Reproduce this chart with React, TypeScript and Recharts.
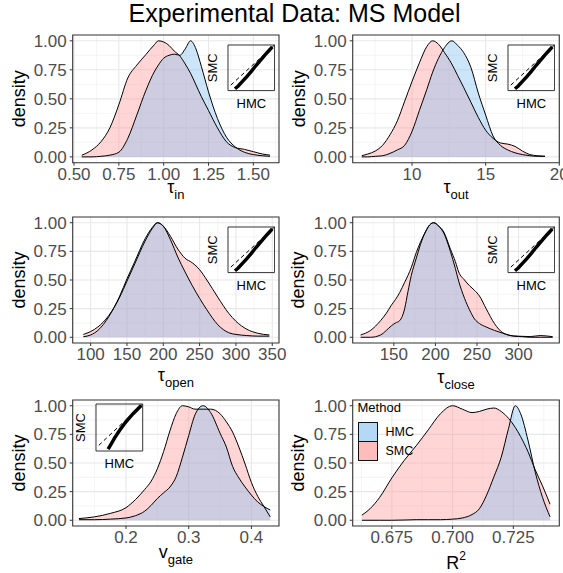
import React from 'react'
import {
  ComposedChart,
  LineChart,
  Area,
  Line,
  XAxis,
  YAxis,
  CartesianGrid,
  ReferenceArea,
  ReferenceLine,
  Legend,
} from 'recharts'

const FONT = '"Liberation Sans", Arial, Helvetica, sans-serif'
const SMC_COLOR = '#ff9696'
const HMC_COLOR = '#82bef0'
const AREA_OPACITY = 0.4
const KEY_COLORS: Record<string, string> = { HMC: '#b4d8f6', SMC: '#ffbcbc' }

const densityTicks = [0, 0.25, 0.5, 0.75, 1]
const densityDomain: [number, number] = [-0.05, 1.05]

// tau_in
const tauInX = [0.543, 0.6, 0.65, 0.7, 0.75, 0.8, 0.85, 0.9, 0.95, 0.97, 1.0, 1.03, 1.06, 1.09, 1.12, 1.15, 1.18, 1.21, 1.25, 1.3, 1.35, 1.4, 1.45, 1.5, 1.55, 1.593]
const tauInSmc = [0.014, 0.06, 0.13, 0.25, 0.45, 0.68, 0.79, 0.88, 0.97, 1.0, 0.99, 0.96, 0.91, 0.87, 0.8, 0.72, 0.62, 0.52, 0.4, 0.25, 0.13, 0.08, 0.065, 0.045, 0.025, 0.015]
const tauInHmc = [0, 0, 0.005, 0.015, 0.04, 0.16, 0.36, 0.57, 0.74, 0.79, 0.85, 0.875, 0.885, 0.875, 0.93, 1.0, 0.93, 0.78, 0.56, 0.33, 0.17, 0.085, 0.04, 0.02, 0.01, 0.005]
const tauInTicks = [0.5, 0.75, 1, 1.25, 1.5]

// tau_out
const tauOutX = [6.59, 7, 7.5, 8, 8.5, 9, 9.5, 10, 10.5, 11, 11.4, 11.8, 12.2, 12.7, 13.1, 13.5, 14, 14.5, 15, 15.5, 16, 16.5, 17, 17.5, 18, 18.5, 19.03]
const tauOutSmc = [0.01, 0.025, 0.05, 0.1, 0.19, 0.31, 0.48, 0.65, 0.81, 0.95, 1.0, 0.97, 0.9, 0.8, 0.7, 0.6, 0.47, 0.34, 0.23, 0.16, 0.12, 0.11, 0.09, 0.05, 0.02, 0.01, 0.005]
const tauOutHmc = [0, 0, 0.005, 0.01, 0.03, 0.06, 0.1, 0.22, 0.4, 0.58, 0.73, 0.85, 0.94, 1.0, 0.96, 0.9, 0.77, 0.55, 0.36, 0.18, 0.1, 0.06, 0.035, 0.02, 0.01, 0.005, 0.005]
const tauOutTicks = [10, 15, 20]

// tau_open
const tauOpenX = [90, 100, 110, 125, 140, 150, 160, 175, 185, 192, 200, 210, 220, 230, 240, 250, 260, 275, 290, 300, 315, 330, 346]
const tauOpenSmc = [0.025, 0.05, 0.09, 0.19, 0.35, 0.49, 0.63, 0.84, 0.95, 1.0, 0.97, 0.88, 0.77, 0.69, 0.65, 0.59, 0.5, 0.35, 0.21, 0.14, 0.07, 0.035, 0.02]
const tauOpenHmc = [0.005, 0.02, 0.06, 0.18, 0.36, 0.51, 0.65, 0.86, 0.96, 1.0, 0.97, 0.85, 0.7, 0.57, 0.45, 0.34, 0.24, 0.11, 0.04, 0.025, 0.015, 0.01, 0.01]
const tauOpenTicks = [100, 150, 200, 250, 300, 350]

// tau_close
const tauCloseX = [110, 122, 134, 141, 147, 152, 157, 163, 167, 171, 177, 182, 188, 193, 198, 204, 210, 218, 224, 228, 235, 241, 247, 253, 261, 271, 281, 294, 305, 314, 326, 341]
const tauCloseSmc = [0.02, 0.06, 0.145, 0.21, 0.28, 0.33, 0.39, 0.48, 0.54, 0.61, 0.74, 0.83, 0.92, 0.98, 1.0, 0.97, 0.92, 0.77, 0.66, 0.57, 0.5, 0.45, 0.41, 0.36, 0.25, 0.12, 0.04, 0.012, 0.008, 0.006, 0.015, 0.005]
const tauCloseHmc = [0, 0, 0.02, 0.06, 0.1, 0.125, 0.145, 0.25, 0.4, 0.54, 0.69, 0.81, 0.92, 0.98, 1.0, 0.97, 0.91, 0.75, 0.6, 0.49, 0.34, 0.24, 0.16, 0.12, 0.09, 0.06, 0.035, 0.01, 0.005, 0, 0, 0]
const tauCloseTicks = [150, 200, 250, 300]

// v_gate
const vGateX = [0.125, 0.15, 0.175, 0.2, 0.215, 0.23, 0.24, 0.25, 0.26, 0.27, 0.28, 0.29, 0.3, 0.31, 0.323, 0.335, 0.35, 0.36, 0.37, 0.38, 0.39, 0.4, 0.41, 0.42, 0.43]
const vGateSmc = [0.015, 0.03, 0.06, 0.11, 0.18, 0.27, 0.34, 0.45, 0.6, 0.78, 0.93, 1.0, 0.99, 0.97, 0.97, 0.97, 0.93, 0.86, 0.77, 0.64, 0.49, 0.33, 0.21, 0.12, 0.03]
const vGateHmc = [0.005, 0.005, 0.01, 0.02, 0.04, 0.08, 0.13, 0.19, 0.24, 0.29, 0.38, 0.55, 0.74, 0.92, 1.0, 0.94, 0.76, 0.64, 0.47, 0.37, 0.29, 0.22, 0.16, 0.12, 0.09]
const vGateTicks = [0.2, 0.3, 0.4]

// R^2
const r2X = [0.6627, 0.666, 0.67, 0.675, 0.68, 0.685, 0.69, 0.695, 0.7, 0.704, 0.708, 0.711, 0.714, 0.717, 0.72, 0.723, 0.7258, 0.728, 0.731, 0.734, 0.737, 0.7401]
const r2Smc = [0.045, 0.1, 0.2, 0.37, 0.52, 0.65, 0.79, 0.93, 1.0, 0.97, 0.94, 0.95, 0.97, 0.98, 0.95, 0.89, 0.81, 0.73, 0.6, 0.44, 0.3, 0.14]
const r2Hmc = [0, 0, 0, 0, 0.002, 0.005, 0.005, 0.005, 0.01, 0.02, 0.05, 0.1, 0.22, 0.38, 0.55, 0.8, 1.0, 0.93, 0.7, 0.42, 0.2, 0.03]
const r2Ticks = [0.675, 0.7, 0.725]

// QQ insets (scaled quantiles)
const qqHmc = [0.15, 0.22, 0.3, 0.4, 0.5, 0.6, 0.7, 0.8, 0.9, 0.95]
const qqSmc = [0.04, 0.1, 0.19, 0.3, 0.42, 0.55, 0.67, 0.79, 0.9, 0.96]
const vGateQqHmc = [0.26, 0.32, 0.4, 0.5, 0.6, 0.7, 0.8, 0.9, 0.97]
const vGateQqSmc = [0.04, 0.14, 0.28, 0.43, 0.57, 0.69, 0.8, 0.9, 0.97]

const AXIS_W = 72.7
const M_TOP = 6
const M_RIGHT = 10
const X_AXIS_H = 52

const minorOf = (ticks: number[], domain: [number, number]) => {
  const step = ticks[1] - ticks[0]
  const out: number[] = []
  for (let v = ticks[0] - step / 2; v <= domain[1] + 1e-9; v += step) {
    if (v >= domain[0]) out.push(v)
  }
  return out
}

const XTitle = (props: any) => {
  const vb = props.viewBox || { x: 0, y: 0, width: 0, height: 0 }
  const cx = vb.x + vb.width / 2
  return (
    <text x={cx} y={vb.y + props.tDy} textAnchor="middle" fontSize={18} fill="#000" fontFamily={FONT}>
      <tspan>{props.tMain}</tspan>
      {props.tSub ? <tspan fontSize={13} dy={6}>{props.tSub}</tspan> : null}
      {props.tSup ? <tspan fontSize={12} dy={-9}>{props.tSup}</tspan> : null}
    </text>
  )
}

const YTitle = (props: any) => {
  const vb = props.viewBox || { x: 0, y: 0, width: 0, height: 0 }
  const cx = vb.x + (props.tOff ?? vb.width / 2)
  const cy = vb.y + vb.height / 2
  return (
    <text
      x={cx}
      y={cy}
      transform={`rotate(-90 ${cx} ${cy})`}
      textAnchor="middle"
      dominantBaseline="central"
      fontSize={props.tSize}
      fill="#000"
      fontFamily={FONT}
    >
      {props.tText}
    </text>
  )
}

const InsetXTitle = (props: any) => {
  const vb = props.viewBox || { x: 0, y: 0, width: 0, height: 0 }
  return (
    <text x={vb.x + vb.width / 2} y={vb.y + vb.height / 2} textAnchor="middle" dominantBaseline="central" fontSize={13} fill="#000" fontFamily={FONT}>
      {props.tText}
    </text>
  )
}

const MethodLegend = (props: any) => {
  const seen = new Set<string>()
  const items = (props.payload || [])
    .filter((p: any) => {
      if (p.type === 'none' || seen.has(p.value)) return false
      seen.add(p.value)
      return true
    })
    .sort((a: any, b: any) => String(a.value).localeCompare(String(b.value)))
  return (
    <div style={{ fontFamily: FONT, color: '#000' }}>
      <div style={{ fontSize: 13, lineHeight: '16px', marginBottom: 6 }}>Method</div>
      {items.map((it: any, i: number) => (
        <div key={it.value} style={{ display: 'flex', alignItems: 'center', height: 20, marginTop: i ? -1 : 0 }}>
          <div style={{ width: 20, height: 20, boxSizing: 'border-box', background: KEY_COLORS[it.value], border: '1.5px solid #111' }} />
          <span style={{ fontSize: 12.5, marginLeft: 8 }}>{it.value}</span>
        </div>
      ))}
    </div>
  )
}

type InsetSpec = { dx: number; dy: number; w: number; h: number; hmcQ: number[]; smcQ: number[] }

const QQInset = ({ left, top, spec }: { left: number; top: number; spec: InsetSpec }) => {
  const rows = spec.hmcQ.map((q, i) => ({ hmc: q, smc: spec.smcQ[i] }))
  const yW = 31
  const xH = 25
  return (
    <div style={{ position: 'absolute', left: left - yW, top: top - 1 }}>
      <LineChart width={yW + spec.w + 1} height={1 + spec.h + xH} data={rows} margin={{ top: 1, right: 1, bottom: 0, left: 0 }}>
        <XAxis type="number" dataKey="hmc" domain={[0, 1]} allowDataOverflow tick={false} tickLine={false} axisLine={false} height={xH} label={<InsetXTitle tText="HMC" />} />
        <YAxis type="number" domain={[0, 1]} allowDataOverflow tick={false} tickLine={false} axisLine={false} width={yW} label={<YTitle tText="SMC" tSize={13} />} />
        <ReferenceLine segment={[{ x: 0.06, y: 0.12 }, { x: 1, y: 1 }]} stroke="#000" strokeWidth={1} strokeDasharray="4 3" ifOverflow="visible" />
        <Line dataKey="smc" type="linear" stroke="#000" strokeWidth={3.5} dot={false} isAnimationActive={false} />
        <ReferenceArea x1={0} x2={1} y1={0} y2={1} fill="none" stroke="#333" strokeWidth={1} ifOverflow="visible" />
      </LineChart>
    </div>
  )
}

type PanelProps = {
  left: number
  top: number
  plotW: number
  plotH: number
  xs: number[]
  smc: number[]
  hmc: number[]
  domain: [number, number]
  ticks: number[]
  fmt: (v: number) => string
  title: { main: string; sub?: string; sup?: string; dy: number }
  inset?: InsetSpec
  legend?: boolean
}

const DensityPanel = (p: PanelProps) => {
  const rows = p.xs.map((x, i) => ({ x, smc: p.smc[i], hmc: p.hmc[i] }))
  const chartW = AXIS_W + p.plotW + M_RIGHT
  const chartH = M_TOP + p.plotH + X_AXIS_H
  const tick = { fill: '#4d4d4d', fontSize: 17, fontFamily: FONT }
  return (
    <>
      <div style={{ position: 'absolute', left: p.left - AXIS_W, top: p.top - M_TOP }}>
        <ComposedChart width={chartW} height={chartH} data={rows} margin={{ top: M_TOP, right: M_RIGHT, bottom: 0, left: 0 }}>
          <CartesianGrid verticalValues={minorOf(p.ticks, p.domain)} horizontalValues={minorOf(densityTicks, densityDomain)} stroke="#eeeeee" strokeWidth={0.6} />
          <CartesianGrid verticalValues={p.ticks} horizontalValues={densityTicks} stroke="#e8e8e8" strokeWidth={1.1} />
          <XAxis
            type="number"
            dataKey="x"
            domain={p.domain}
            allowDataOverflow
            ticks={p.ticks}
            interval={0}
            tickFormatter={p.fmt}
            tick={tick}
            tickSize={3}
            tickMargin={2}
            tickLine={{ stroke: '#333' }}
            axisLine={false}
            height={X_AXIS_H}
            label={<XTitle tMain={p.title.main} tSub={p.title.sub} tSup={p.title.sup} tDy={p.title.dy} />}
          />
          <YAxis
            type="number"
            domain={densityDomain}
            allowDataOverflow
            ticks={densityTicks}
            interval={0}
            tickFormatter={(v: number) => v.toFixed(2)}
            tick={tick}
            tickSize={3}
            tickMargin={3}
            tickLine={{ stroke: '#333' }}
            axisLine={false}
            width={AXIS_W}
            label={<YTitle tText="density" tSize={18} tOff={18.5} />}
          />
          <Area type="monotone" dataKey="smc" name="SMC" fill={SMC_COLOR} fillOpacity={AREA_OPACITY} stroke="none" isAnimationActive={false} />
          <Area type="monotone" dataKey="hmc" name="HMC" fill={HMC_COLOR} fillOpacity={AREA_OPACITY} stroke="none" isAnimationActive={false} />
          <Line type="monotone" dataKey="smc" stroke="#000" strokeWidth={1} dot={false} legendType="none" isAnimationActive={false} />
          <Line type="monotone" dataKey="hmc" stroke="#000" strokeWidth={1} dot={false} legendType="none" isAnimationActive={false} />
          <ReferenceArea x1={p.domain[0]} x2={p.domain[1]} y1={densityDomain[0]} y2={densityDomain[1]} fill="none" stroke="#333" strokeWidth={1.1} ifOverflow="visible" />
          {p.legend ? (
            <Legend layout="vertical" align="center" verticalAlign="middle" content={<MethodLegend />} wrapperStyle={{ left: 77.5, top: 6, width: 'auto' }} />
          ) : null}
        </ComposedChart>
      </div>
      {p.inset ? <QQInset left={p.left + p.inset.dx} top={p.top + p.inset.dy} spec={p.inset} /> : null}
    </>
  )
}

const LEFT_X = 72.7
const RIGHT_X = 352.7
const LEFT_W = 206.3
const RIGHT_W = 206.6
const ROW_TOP = [35, 217.3, 400]
const ROW_H = [127.7, 126, 126]

const cornerInset: InsetSpec = { dx: 155, dy: 10, w: 46.6, h: 45.6, hmcQ: qqHmc, smcQ: qqSmc }
const vGateInset: InsetSpec = { dx: 23.3, dy: 4, w: 46.7, h: 47, hmcQ: vGateQqHmc, smcQ: vGateQqSmc }

export default function App() {
  return (
    <div style={{ position: 'absolute', left: 0, top: 0, width: 563, height: 573, background: '#fff', overflow: 'hidden', fontFamily: FONT }}>
      <div style={{ position: 'absolute', left: 0, top: 0, width: 589, textAlign: 'center', fontSize: 25, lineHeight: '26px', color: '#000' }}>
        Experimental Data: MS Model
      </div>
      <DensityPanel left={LEFT_X} top={ROW_TOP[0]} plotW={LEFT_W} plotH={ROW_H[0]} xs={tauInX} smc={tauInSmc} hmc={tauInHmc}
        domain={[0.4927, 1.643]} ticks={tauInTicks} fmt={(v) => v.toFixed(2)} title={{ main: 'τ', sub: 'in', dy: 30 }} inset={cornerInset} />
      <DensityPanel left={RIGHT_X} top={ROW_TOP[0]} plotW={RIGHT_W} plotH={ROW_H[0]} xs={tauOutX} smc={tauOutSmc} hmc={tauOutHmc}
        domain={[5.97, 20]} ticks={tauOutTicks} fmt={(v) => String(v)} title={{ main: 'τ', sub: 'out', dy: 30 }} inset={cornerInset} />
      <DensityPanel left={LEFT_X} top={ROW_TOP[1]} plotW={LEFT_W} plotH={ROW_H[1]} xs={tauOpenX} smc={tauOpenSmc} hmc={tauOpenHmc}
        domain={[75.3, 359.3]} ticks={tauOpenTicks} fmt={(v) => String(v)} title={{ main: 'τ', sub: 'open', dy: 38 }} inset={cornerInset} />
      <DensityPanel left={RIGHT_X} top={ROW_TOP[1]} plotW={RIGHT_W} plotH={ROW_H[1]} xs={tauCloseX} smc={tauCloseSmc} hmc={tauCloseHmc}
        domain={[100.5, 349]} ticks={tauCloseTicks} fmt={(v) => String(v)} title={{ main: 'τ', sub: 'close', dy: 40 }} inset={cornerInset} />
      <DensityPanel left={LEFT_X} top={ROW_TOP[2]} plotW={LEFT_W} plotH={ROW_H[2]} xs={vGateX} smc={vGateSmc} hmc={vGateHmc}
        domain={[0.115, 0.444]} ticks={vGateTicks} fmt={(v) => v.toFixed(1)} title={{ main: 'v', sub: 'gate', dy: 32 }} inset={vGateInset} />
      <DensityPanel left={RIGHT_X} top={ROW_TOP[2]} plotW={RIGHT_W} plotH={ROW_H[2]} xs={r2X} smc={r2Smc} hmc={r2Hmc}
        domain={[0.6589, 0.7439]} ticks={r2Ticks} fmt={(v) => v.toFixed(3)} title={{ main: 'R', sup: '2', dy: 43 }} legend />
    </div>
  )
}
